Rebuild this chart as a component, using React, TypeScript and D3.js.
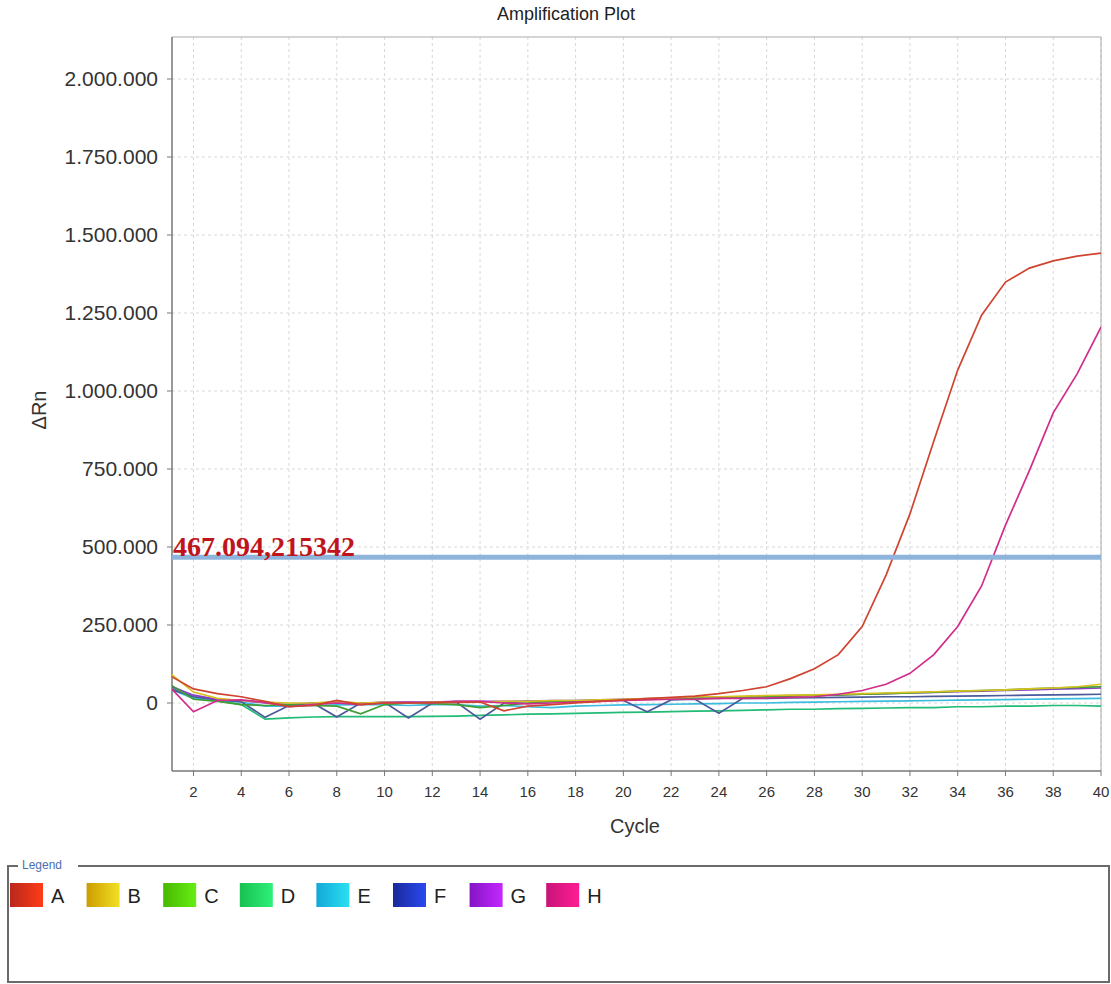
import React from "react";
import * as d3 from "d3";

const cycles = d3.range(1, 41);
const seriesNames = ["A", "B", "C", "D", "E", "F", "G", "H"];
const lineColors = ["#cf4430", "#d6c21e", "#3f9e34", "#22bb77", "#3cbde0", "#4a5a9a", "#8a3fc8", "#d22c8c"];
const swatchDark = ["#b8281c", "#cc9c00", "#48b800", "#18c050", "#12a8d8", "#1a2a9a", "#8414c4", "#c81478"];
const swatchLight = ["#ff3c18", "#f2e024", "#66ee14", "#2ef078", "#2ae0f0", "#2a48f0", "#c428ff", "#ff1c94"];

const valsA = [88000, 45000, 30000, 20000, 5000, -12000, -8000, 8000, -5000, 0, 0, 2000, 2000, 3000, -25000, -10000, -5000, 0, 5000, 10000, 14000, 18000, 22000, 30000, 40000, 52000, 78000, 110000, 155000, 245000, 410000, 606000, 840000, 1067000, 1243000, 1349000, 1394000, 1417000, 1432000, 1442000];
const valsB = [96000, 35000, 15000, 8000, 3000, 0, 0, 5000, 0, 2000, 0, 2000, 3000, 3000, 5000, 5000, 8000, 8000, 10000, 12000, 14000, 16000, 20000, 20000, 22000, 24000, 25000, 26000, 28000, 30000, 32000, 34000, 36000, 38000, 40000, 42000, 45000, 48000, 52000, 60000];
const valsC = [60000, 12000, 5000, -5000, -8000, -5000, -8000, -10000, -35000, -5000, 0, -2000, -5000, -15000, -8000, 0, 5000, 5000, 8000, 10000, 12000, 12000, 15000, 15000, 18000, 20000, 22000, 24000, 26000, 28000, 30000, 32000, 35000, 38000, 40000, 42000, 45000, 48000, 50000, 52000];
const valsD = [50000, 20000, 8000, -5000, -52000, -48000, -45000, -44000, -44000, -44000, -44000, -43000, -42000, -40000, -38000, -36000, -35000, -33000, -32000, -30000, -29000, -28000, -26000, -25000, -24000, -22000, -20000, -20000, -18000, -17000, -16000, -15000, -15000, -12000, -12000, -10000, -10000, -8000, -8000, -10000];
const valsE = [45000, 15000, 8000, 3000, -10000, -10000, -8000, -6000, -5000, -5000, -8000, -5000, -5000, -10000, -8000, -12000, -15000, -10000, -8000, -6000, -5000, -4000, -3000, -2000, 0, 0, 2000, 3000, 4000, 5000, 6000, 7000, 8000, 9000, 10000, 11000, 12000, 13000, 14000, 15000];
const valsF = [45000, 20000, 10000, 4000, -46000, -8000, 0, -45000, 0, 2000, -48000, 0, 3000, -52000, 0, 5000, 5000, 6000, 8000, 8000, -28000, 10000, 12000, -33000, 15000, 15000, 16000, 17000, 18000, 19000, 20000, 20000, 21000, 22000, 23000, 24000, 25000, 26000, 27000, 28000];
const valsG = [55000, 25000, 12000, 8000, 0, -5000, 0, 0, -3000, 3000, 3000, 3000, 5000, 5000, 5000, 6000, 8000, 8000, 10000, 12000, 14000, 15000, 16000, 18000, 20000, 22000, 24000, 25000, 26000, 28000, 30000, 32000, 34000, 36000, 38000, 40000, 42000, 44000, 46000, 48000];
const valsH = [52000, -28000, 8000, 10000, 2000, -12000, -5000, 0, -5000, 0, 2000, 0, 5000, 5000, 0, -3000, 0, 3000, 5000, 8000, 10000, 12000, 12000, 15000, 15000, 16000, 18000, 20000, 28000, 40000, 60000, 95000, 155000, 245000, 375000, 570000, 745000, 930000, 1055000, 1205000];

const yTicks = [0, 250000, 500000, 750000, 1000000, 1250000, 1500000, 1750000, 2000000];
const xTicks = d3.range(2, 41, 2);
const threshold = 467094;
const thresholdLabel = "467.094,215342";

const W = 1111;
const H = 984;
const left = 172, right = 1101, top = 37, bottom = 771;

export default function App() {
  const x = d3.scaleLinear().domain([1.1, 40]).range([left, right]);
  const y = d3.scaleLinear().domain([-218000, 2134600]).range([bottom, top]);
  const allVals = [valsA, valsB, valsC, valsD, valsE, valsF, valsG, valsH];
  const line = d3.line<number>().x((_, i) => x(cycles[i])).y((v) => y(v));
  const fmt = (v: number) => d3.format(",")(v).replace(/,/g, ".");
  const drawOrder = [3, 4, 5, 6, 2, 1, 7, 0];
  const font = "'Liberation Sans', Arial, sans-serif";

  return (
    <svg width={W} height={H} style={{ position: "absolute", left: 0, top: 0, background: "#fff" }} fontFamily={font}>
      <defs>
        <clipPath id="plotclip">
          <rect x={left} y={top} width={right - left} height={bottom - top} />
        </clipPath>
        {seriesNames.map((n, i) => (
          <linearGradient key={n} id={`sw${i}`} x1="0" y1="0" x2="1" y2="0">
            <stop offset="0" stopColor={swatchDark[i]} />
            <stop offset="1" stopColor={swatchLight[i]} />
          </linearGradient>
        ))}
      </defs>
      <text x={566} y={20} textAnchor="middle" fontSize={18} fill="#222">Amplification Plot</text>

      {/* grid */}
      {yTicks.map((t) => (
        <line key={"gy" + t} x1={left} x2={right} y1={y(t)} y2={y(t)} stroke="#d8d8d8" strokeDasharray="3,3" />
      ))}
      {xTicks.map((t) => (
        <line key={"gx" + t} x1={x(t)} x2={x(t)} y1={top} y2={bottom} stroke="#d8d8d8" strokeDasharray="3,3" />
      ))}

      {/* frame */}
      <line x1={left} x2={right} y1={top} y2={top} stroke="#aaa" />
      <line x1={right} x2={right} y1={top} y2={bottom} stroke="#aaa" />
      <line x1={left} x2={left} y1={top} y2={bottom} stroke="#777" strokeWidth={1.5} />
      <line x1={left} x2={right} y1={bottom} y2={bottom} stroke="#777" strokeWidth={1.5} />

      {/* y ticks */}
      {yTicks.map((t) => (
        <g key={"ty" + t}>
          <line x1={left - 5} x2={left} y1={y(t)} y2={y(t)} stroke="#777" />
          <text x={158} y={y(t) + 7} textAnchor="end" fontSize={21} fill="#333">{fmt(t)}</text>
        </g>
      ))}
      {/* x ticks */}
      {xTicks.map((t) => (
        <g key={"tx" + t}>
          <line x1={x(t)} x2={x(t)} y1={bottom} y2={bottom + 5} stroke="#777" />
          <text x={x(t)} y={bottom + 26} textAnchor="middle" fontSize={15} fill="#333">{t}</text>
        </g>
      ))}

      <text transform={`translate(46,410) rotate(-90)`} textAnchor="middle" fontSize={20} fill="#333">ΔRn</text>
      <text x={635} y={833} textAnchor="middle" fontSize={20} fill="#333">Cycle</text>

      {/* series */}
      <g clipPath="url(#plotclip)">
        {drawOrder.map((i) => (
          <path key={seriesNames[i]} d={line(allVals[i]) || ""} fill="none" stroke={lineColors[i]} strokeWidth={1.7} />
        ))}
      </g>

      {/* threshold */}
      <line x1={left} x2={right} y1={y(threshold)} y2={y(threshold)} stroke="#8fb4dc" strokeWidth={5} />
      <text x={173} y={y(threshold) - 1} fontFamily="'Liberation Serif', 'Times New Roman', serif" fontWeight="bold" fontSize={28} fill="#c0141c">{thresholdLabel}</text>

      {/* legend */}
      <path d="M 18 866 L 8 866 L 8 982 L 1109 982 L 1109 866 L 78 866" fill="none" stroke="#6a6a6a" strokeWidth={2} />
      <text x={22} y={869} fontSize={12} fill="#4a6fb0">Legend</text>
      {seriesNames.map((n, i) => (
        <g key={"lg" + n} transform={`translate(${10 + i * 76.6},883)`}>
          <rect width={33} height={24} fill={`url(#sw${i})`} />
          <text x={41} y={20} fontSize={20} fill="#222">{n}</text>
        </g>
      ))}
    </svg>
  );
}
